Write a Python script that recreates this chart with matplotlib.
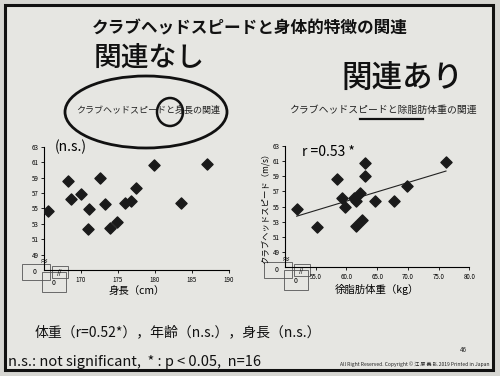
import numpy as np
import matplotlib.pyplot as plt
from matplotlib.patches import Ellipse, Rectangle

plt.rcParams['font.family'] = ['Noto Sans CJK JP', 'DejaVu Sans']

# data
height_cm = [165.6, 168.3, 168.6, 170.0, 171.1, 171.0, 172.6, 173.3,
             173.9, 174.8, 175.9, 176.8, 177.4, 179.8, 187.0, 183.5]
speed_left = [54.7, 58.6, 56.2, 56.8, 54.9, 52.3, 59.0, 55.6,
              52.5, 53.2, 55.7, 56.0, 57.6, 60.6, 60.8, 55.7]

lean_mass = [51.9, 55.2, 58.4, 59.3, 59.7, 61.2, 61.5, 61.5,
             62.2, 62.5, 63.0, 63.0, 64.7, 67.8, 69.9, 76.2]
speed_right = [54.7, 52.3, 58.7, 56.2, 54.9, 56.1, 55.7, 52.4,
               56.8, 53.3, 60.7, 59.1, 55.7, 55.7, 57.7, 60.9]

y_ticks = [49, 51, 53, 55, 57, 59, 61, 63]
x_ticks_left = [170, 175, 180, 185, 190]
x_ticks_right = [55, 60, 65, 70, 75, 80]

W, H = 500, 376
fig = plt.figure(figsize=(5, 3.76), dpi=100, facecolor='#d6d6d2')

# background layer in pixel coordinates
bg = fig.add_axes([0, 0, 1, 1])
bg.set_xlim(0, W)
bg.set_ylim(H, 0)
bg.axis('off')
bg.add_patch(Rectangle((5, 5), 488, 365, facecolor='#e6e6e2', edgecolor='#111111', lw=2.2))

bg.text(250, 28, 'クラブヘッドスピードと身体的特徴の関連', ha='center', va='center',
        fontsize=12, fontweight='bold', color='#111111')

# handwritten notes
bg.text(149, 57, '関連なし', ha='center', va='center', fontsize=20, fontweight='medium', color='#111111')
bg.text(402, 78, '関連あり', ha='center', va='center', fontsize=22, fontweight='medium', color='#111111')
bg.add_patch(Ellipse((146, 112), 162, 72, fill=False, lw=2, edgecolor='#111111'))
bg.add_patch(Ellipse((170, 112), 26, 28, fill=False, lw=1.8, edgecolor='#111111'))
bg.plot([360, 423], [119, 119], color='#111111', lw=1.6)

bg.text(148, 110, 'クラブヘッドスピードと身長の関連', ha='center', va='center', fontsize=6.5, color='#222222')
bg.text(383, 110, 'クラブヘッドスピードと除脂肪体重の関連', ha='center', va='center', fontsize=7.1, color='#222222')

bg.text(35, 332, '体重（r=0.52*），年齢（n.s.），身長（n.s.）', ha='left', va='center',
        fontsize=10, color='#111111')
bg.text(8, 362, 'n.s.: not significant,  * : p < 0.05,  n=16', ha='left', va='center',
        fontsize=10.5, color='#111111')
bg.text(463, 350, '46', ha='center', va='center', fontsize=4.5, color='#222222')
bg.text(490, 364, 'All Right Reserved. Copyright © 江 原 義 弘 2019 Printed in Japan', ha='right',
        va='center', fontsize=3.6, color='#222222')


def panel(rect, x, y, xlim, xticks, fmt):
    ax = fig.add_axes(rect)
    ax.patch.set_alpha(0)
    ax.scatter(x, y, marker='D', s=32, color='#1a1a1a', zorder=3)
    ax.set_xlim(*xlim)
    ax.set_ylim(47, 63)
    ax.set_yticks(y_ticks)
    ax.set_xticks(xticks)
    ax.set_xticklabels([fmt % t for t in xticks])
    for s in ['top', 'right']:
        ax.spines[s].set_visible(False)
    for s in ['left', 'bottom']:
        ax.spines[s].set_linewidth(0.8)
    ax.tick_params(labelsize=4.5, length=2, width=0.6, pad=2)
    return ax


px = lambda l, b, r, t: [l / W, 1 - b / H, (r - l) / W, (b - t) / H]

ax1 = panel(px(44, 270, 229, 146.7), height_cm, speed_left, (165, 190), x_ticks_left, '%d')
ax1.text(0.06, 1.0, '(n.s.)', transform=ax1.transAxes, fontsize=10, va='center')
ax1.set_xlabel('身長（cm）', fontsize=7.5, labelpad=2)

ax2 = panel(px(285, 267.3, 469.3, 146), lean_mass, speed_right, (50, 80), x_ticks_right, '%.1f')
k, c = np.polyfit(lean_mass, speed_right, 1)
xs = np.array([min(lean_mass), max(lean_mass)])
ax2.plot(xs, k * xs + c, color='#222222', lw=0.8)
ax2.text(0.09, 0.95, 'r =0.53 *', transform=ax2.transAxes, fontsize=10, va='center')
ax2.set_xlabel('徐脂肪体重（kg）', fontsize=7.5, labelpad=2)
ax2.set_ylabel('クラブヘッドスピード（m/s）', fontsize=6, labelpad=2)

# axis break boxes near the origins
for ox, oy in [(22, 262), (264, 260)]:
    bg.add_patch(Rectangle((ox, oy + 2), 28, 16, fill=False, lw=0.6, edgecolor='#555555'))
    bg.add_patch(Rectangle((ox + 20, oy + 10), 24, 20, fill=False, lw=0.6, edgecolor='#555555'))
    bg.add_patch(Rectangle((ox + 30, oy + 4), 16, 12, fill=False, lw=0.6, edgecolor='#555555'))
    bg.text(ox + 13, oy + 10, '0', fontsize=5, ha='center', va='center')
    bg.text(ox + 32, oy + 21, '0', fontsize=5, ha='center', va='center')
    bg.text(ox + 22, oy, '≈', fontsize=6, ha='center', va='center')
    bg.text(ox + 38, oy + 11, '//', fontsize=5, ha='center', va='center')

fig.savefig('out.png', dpi=100, facecolor=fig.get_facecolor())
